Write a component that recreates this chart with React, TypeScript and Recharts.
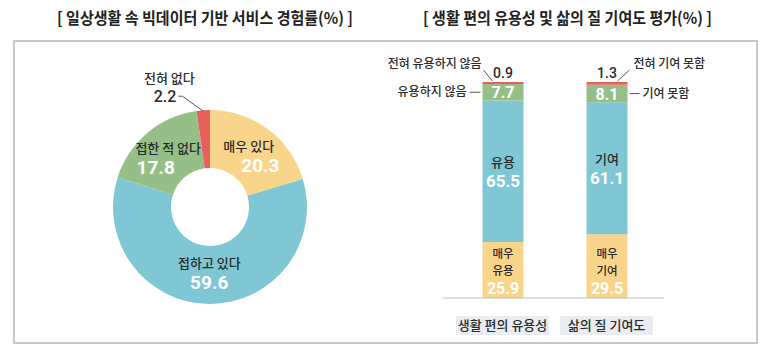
import React from "react";
import { Bar, BarChart, Cell, LabelList, Pie, PieChart, XAxis, YAxis } from "recharts";

// donut: everyday big-data service experience
const donutNames = ["매우 있다", "접하고 있다", "접한 적 없다", "전혀 없다"];
const donutValues = [20.3, 59.6, 17.8, 2.2];
const donutColors = ["#F9D58C", "#7FC7D4", "#95BF87", "#E8605A"];

// stacked bars: convenience / quality of life
const barCategories = ["생활 편의 유용성", "삶의 질 기여도"];
const veryValues = [25.9, 29.5];
const midValues = [65.5, 61.1];
const lowValues = [7.7, 8.1];
const noneValues = [0.9, 1.3];
const veryNames = [["매우", "유용"], ["매우", "기여"]];
const midNames = ["유용", "기여"];
const lowNames = ["유용하지 않음", "기여 못함"];
const noneNames = ["전혀 유용하지 않음", "전혀 기여 못함"];

const KR = "'Noto Sans CJK KR', 'Noto Sans', sans-serif";
const NUM = "Roboto, 'Noto Sans CJK KR', sans-serif";
const DARK = "#2b2b2b";

const pieData = donutNames.map((name, i) => ({ name, value: donutValues[i] }));
const barData = barCategories.map((name, i) => ({
  name,
  very: veryValues[i],
  mid: midValues[i],
  low: lowValues[i],
  none: noneValues[i],
}));

const RAD = Math.PI / 180;

function DonutLabel(props: any) {
  const { cx, cy, midAngle, innerRadius, outerRadius, index, value } = props;
  if (index === 3) {
    const r1 = outerRadius - 1;
    const x1 = cx + r1 * Math.cos(midAngle * RAD);
    const y1 = cy - r1 * Math.sin(midAngle * RAD);
    const x2 = x1 - 21;
    const y2 = y1 - 15;
    return (
      <g>
        <polyline points={`${x1},${y1} ${x2},${y2} ${x2 - 4},${y2}`} stroke="#555" strokeWidth={1} fill="none" />
        <text x={x2 - 6} y={y2 + 6} textAnchor="end" fontFamily={NUM} fontSize={16} fontWeight={500} fill={DARK}>
          {value}
        </text>
        <text x={x2 - 13} y={y2 - 13} textAnchor="middle" fontFamily={KR} fontSize={13} fontWeight={500} fill={DARK}>
          {donutNames[index]}
        </text>
      </g>
    );
  }
  const r = (innerRadius + outerRadius) / 2 - 3;
  const x = cx + r * Math.cos(midAngle * RAD);
  const y = cy - r * Math.sin(midAngle * RAD);
  const vx = x + (x - cx) * 0.3;
  return (
    <g>
      <text x={x} y={y - 4} textAnchor="middle" fontFamily={KR} fontSize={13} fontWeight={500} fill={DARK}>
        {donutNames[index]}
      </text>
      <text x={vx} y={y + 17} textAnchor="middle" fontFamily={NUM} fontSize={19} fontWeight={700} fill="#fff">
        {value}
      </text>
    </g>
  );
}

function VeryLabel(props: any) {
  const { x, y, width, height, index, value } = props;
  const cx = x + width / 2;
  const bottom = y + height;
  return (
    <g fontFamily={KR} textAnchor="middle">
      <text x={cx} y={bottom - 40} fontSize={11.5} fontWeight={500} fill={DARK}>{veryNames[index][0]}</text>
      <text x={cx} y={bottom - 23} fontSize={11.5} fontWeight={500} fill={DARK}>{veryNames[index][1]}</text>
      <text x={cx} y={bottom - 4} fontFamily={NUM} fontSize={16} fontWeight={700} fill="#fff">{value}</text>
    </g>
  );
}

function MidLabel(props: any) {
  const { x, y, width, height, index, value } = props;
  const cx = x + width / 2;
  const cy = y + height / 2;
  return (
    <g textAnchor="middle">
      <text x={cx} y={cy - 4} fontFamily={KR} fontSize={13} fontWeight={500} fill={DARK}>{midNames[index]}</text>
      <text x={cx} y={cy + 16} fontFamily={NUM} fontSize={17} fontWeight={700} fill="#fff">{value}</text>
    </g>
  );
}

function LowLabel(props: any) {
  const { x, y, width, height, index, value } = props;
  const cy = y + height / 2;
  const left = index === 0;
  const lx1 = left ? x - 13 : x + width + 2;
  const lx2 = left ? x - 2 : x + width + 12;
  return (
    <g>
      <text x={x + width / 2} y={cy + 6} textAnchor="middle" fontFamily={NUM} fontSize={16} fontWeight={700} fill="#fff">
        {value}
      </text>
      <line x1={lx1} y1={cy} x2={lx2} y2={cy} stroke="#555" strokeWidth={1} />
      <text
        x={left ? lx1 - 3 : lx2 + 3}
        y={cy + 4}
        textAnchor={left ? "end" : "start"}
        fontFamily={KR}
        fontSize={12}
        fontWeight={500}
        fill={DARK}
      >
        {lowNames[index]}
      </text>
    </g>
  );
}

function NoneLabel(props: any) {
  const { x, y, width, index, value } = props;
  const left = index === 0;
  const px = left ? x + 10 : x + width - 10;
  const qx = left ? px - 9 : px + 12;
  const qy = y - 12;
  return (
    <g>
      <text x={x + width / 2} y={y - 4} textAnchor="middle" fontFamily={NUM} fontSize={14} fontWeight={500} fill={DARK}>
        {value}
      </text>
      <line x1={px} y1={y - 1} x2={qx} y2={qy} stroke="#555" strokeWidth={1} />
      <text
        x={left ? qx - 2 : qx + 4}
        y={qy - 2}
        textAnchor={left ? "end" : "start"}
        fontFamily={KR}
        fontSize={12}
        fontWeight={500}
        fill={DARK}
      >
        {noneNames[index]}
      </text>
    </g>
  );
}

function CategoryTick(props: any) {
  const { x, y, payload } = props;
  return (
    <g>
      <rect x={x - 46.5} y={y + 10} width={93} height={19} fill="#E9ECF1" />
      <text x={x} y={y + 24} textAnchor="middle" fontFamily={KR} fontSize={13} fontWeight={500} fill={DARK}>
        {payload.value}
      </text>
    </g>
  );
}

export default function App() {
  return (
    <div style={{ position: "absolute", left: 0, top: 0, width: 771, height: 357, background: "#fff" }}>
      <svg width={771} height={357} style={{ position: "absolute", left: 0, top: 0 }}>
        <rect x={14} y={41} width={743} height={302} fill="none" stroke="#b7b7b7" strokeWidth={1.5} />
        <text x={57} y={24} textLength={296} lengthAdjust="spacingAndGlyphs" fontFamily={KR} fontSize={16} fontWeight={700} fill="#222">
          [ 일상생활 속 빅데이터 기반 서비스 경험률(%) ]
        </text>
        <text x={423} y={24} textLength={289} lengthAdjust="spacingAndGlyphs" fontFamily={KR} fontSize={16} fontWeight={700} fill="#222">
          [ 생활 편의 유용성 및 삶의 질 기여도 평가(%) ]
        </text>
      </svg>
      <div style={{ position: "absolute", left: 0, top: 0 }}>
        <PieChart width={420} height={357}>
          <Pie
            data={pieData}
            dataKey="value"
            cx={205}
            cy={202}
            innerRadius={39}
            outerRadius={97}
            startAngle={90}
            endAngle={-270}
            stroke="none"
            label={DonutLabel}
            labelLine={false}
            isAnimationActive={false}
          >
            {pieData.map((_, i) => (
              <Cell key={i} fill={donutColors[i]} />
            ))}
          </Pie>
        </PieChart>
      </div>
      <div style={{ position: "absolute", left: 0, top: 0 }}>
        <BarChart
          width={771}
          height={357}
          data={barData}
          margin={{ top: 82, right: 107, bottom: 19, left: 443 }}
          barSize={41}
        >
          <XAxis
            dataKey="name"
            height={40}
            padding={{ left: 7.5, right: 5.5 }}
            axisLine={{ stroke: "#bdbdbd", strokeWidth: 1.2 }}
            tickLine={false}
            tick={CategoryTick}
            interval={0}
          />
          <YAxis hide domain={[0, 100]} />
          <Bar dataKey="very" stackId="a" fill={donutColors[0]} isAnimationActive={false}>
            <LabelList dataKey="very" content={VeryLabel} />
          </Bar>
          <Bar dataKey="mid" stackId="a" fill={donutColors[1]} isAnimationActive={false}>
            <LabelList dataKey="mid" content={MidLabel} />
          </Bar>
          <Bar dataKey="low" stackId="a" fill={donutColors[2]} isAnimationActive={false}>
            <LabelList dataKey="low" content={LowLabel} />
          </Bar>
          <Bar dataKey="none" stackId="a" fill={donutColors[3]} isAnimationActive={false}>
            <LabelList dataKey="none" content={NoneLabel} />
          </Bar>
        </BarChart>
      </div>
    </div>
  );
}
